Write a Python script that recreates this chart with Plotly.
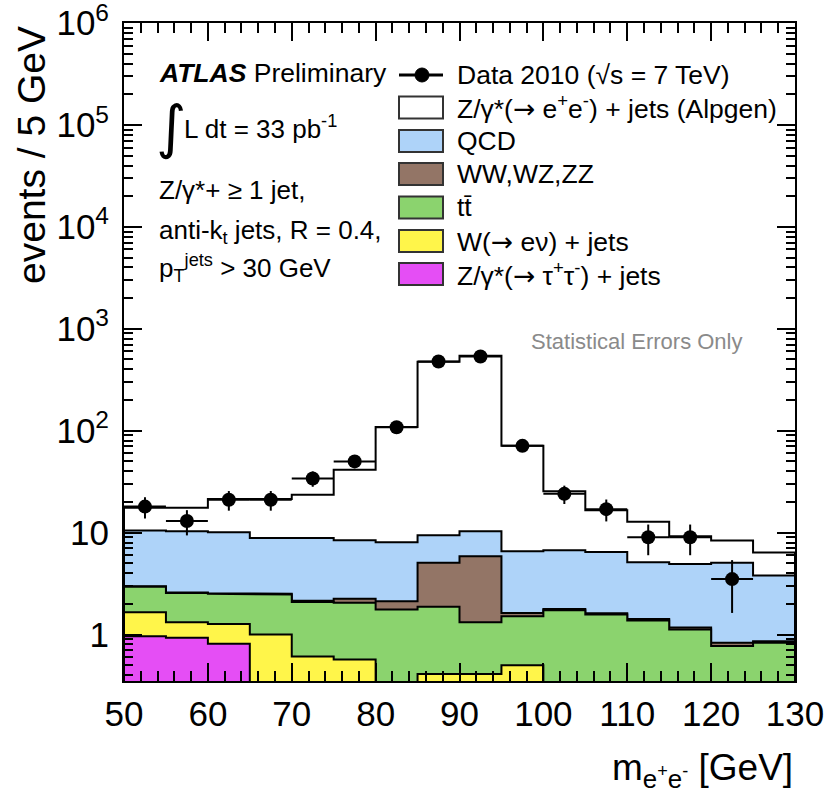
import numpy as np
import plotly.graph_objects as go

# ---------------- data ----------------
bin_low = [50, 55, 60, 65, 70, 75, 80, 85, 90, 95, 100, 105, 110, 115, 120, 125]
bin_width = 5

data_x = [52.5, 57.5, 62.5, 67.5, 72.5, 77.5, 82.5, 87.5, 92.5, 97.5, 102.5, 107.5, 112.5, 117.5, 122.5]
data_y = [18, 13, 21, 21, 34, 50, 108, 478, 535, 71, 24, 17, 9, 9, 3.5]

# MC processes (stacked, bottom -> top)
z_tautau = [0.96, 0.93, 0.81, 0, 0, 0, 0, 0, 0, 0, 0, 0, 0, 0, 0, 0]
w_enu = [0.69, 0.39, 0.46, 1.0, 0.61, 0.57, 0, 0.41, 0.41, 0.50, 0, 0, 0, 0, 0, 0]
ttbar = [1.29, 1.24, 1.24, 1.47, 1.48, 1.48, 1.76, 1.46, 0.91, 1.01, 1.73, 1.57, 1.37, 1.12, 0.77, 0.83]
diboson = [0.03, 0.03, 0.03, 0.04, 0.05, 0.19, 0.36, 3.18, 4.54, 0.12, 0.05, 0.05, 0.05, 0.05, 0.06, 0.03]
qcd = [7.53, 7.71, 7.56, 6.36, 6.73, 6.16, 5.91, 4.35, 4.44, 4.93, 4.92, 4.84, 3.69, 3.76, 4.22, 2.93]
z_ee = [7.0, 7.2, 11.3, 12.5, 14.7, 33.1, 101, 466, 533, 64.7, 18.7, 10.1, 7.7, 4.3, 3.3, 2.6]

ARROW = '<span style="font-family:DejaVu Sans">\u2192</span>'
layer_names = ["Z/γ*(" + ARROW + " τ<sup>+</sup>τ<sup>-</sup>) + jets", "W(" + ARROW + " eν) + jets", "tt\u0304",
               "WW,WZ,ZZ", "QCD", "Z/γ*(" + ARROW + " e<sup>+</sup>e<sup>-</sup>) + jets (Alpgen)"]
layer_colors = ["#e54ef5", "#fff54a", "#8bd36e", "#937566", "#aed3f9", "#ffffff"]

x_ticks = [50, 60, 70, 80, 90, 100, 110, 120, 130]
y_ticks = [1, 10, 100, 1e3, 1e4, 1e5, 1e6]
y_ticktext = ["1", "10", "10<sup>2</sup>", "10<sup>3</sup>", "10<sup>4</sup>", "10<sup>5</sup>", "10<sup>6</sup>"]

FONT = "Liberation Sans, Arial, Helvetica, sans-serif"
W, H = 827, 796
L, R, T, B = 124, 795, 23, 681  # plot-area pixel box


def px2x(px):
    return (px - L) / (R - L)


def py2y(py):
    return (B - py) / (B - T)


floor = 0.05
layers = [z_tautau, w_enu, ttbar, diboson, qcd, z_ee]
cum = np.cumsum(np.array(layers, dtype=float), axis=0)

fig = go.Figure()

# draw stacked histograms from top (largest) to bottom
for k in range(len(layers) - 1, -1, -1):
    xs, ys = [], []
    for lo, v in zip(bin_low, cum[k]):
        v = max(v, floor)
        xs += [lo, lo + bin_width]
        ys += [v, v]
    xs += [bin_low[-1] + bin_width, bin_low[0], bin_low[0]]
    ys += [floor, floor, ys[0]]
    fig.add_trace(go.Scatter(x=xs, y=ys, mode="lines", fill="toself",
                             fillcolor=layer_colors[k],
                             line=dict(color="black", width=2),
                             hoverinfo="skip", showlegend=False))

# data points
dy = np.sqrt(np.array(data_y, dtype=float))
fig.add_trace(go.Scatter(
    x=data_x, y=data_y, mode="markers",
    marker=dict(size=14, color="black"),
    error_y=dict(type="data", array=dy, thickness=2, width=0, color="black"),
    error_x=dict(type="constant", value=bin_width / 2, thickness=2, width=0, color="black"),
    showlegend=False))

minor_y = [m * 10 ** e for e in range(-1, 6) for m in range(2, 10)]

fig.update_layout(
    width=W, height=H,
    margin=dict(l=L, r=W - R, t=T, b=H - B, autoexpand=False),
    paper_bgcolor="white", plot_bgcolor="white",
    font=dict(family=FONT, color="black"),
    showlegend=False,
    xaxis=dict(range=[50, 130], tickvals=x_ticks, ticks="inside", ticklen=18, tickwidth=1.5,
               tickcolor="black", showline=True, linecolor="black", linewidth=2, mirror="allticks",
               showgrid=False, zeroline=False, tickfont=dict(size=35, family=FONT),
               ticklabelstandoff=1, automargin=False, ticklabeloverflow="allow",
               minor=dict(dtick=2, ticks="inside", ticklen=10, tickwidth=1.5, tickcolor="black", showgrid=False)),
    yaxis=dict(type="log", range=[np.log10(0.35), 6.0005], tickvals=y_ticks, ticktext=y_ticktext,
               ticks="inside", ticklen=18, tickwidth=1.5, tickcolor="black", showline=True,
               linecolor="black", linewidth=2, mirror="allticks", showgrid=False, zeroline=False,
               tickfont=dict(size=35, family=FONT), ticklabelstandoff=6, automargin=False,
               ticklabeloverflow="allow",
               minor=dict(tickvals=minor_y, ticks="inside", ticklen=9, tickwidth=1.5, tickcolor="black", showgrid=False)),
)

ann = []
# axis titles
ann.append(dict(x=px2x(31), y=py2y(24), xref="paper", yref="paper", text="events / 5 GeV",
                textangle=-90, showarrow=False, xanchor="center", yanchor="top",
                font=dict(size=39, family=FONT)))
ann.append(dict(x=1.0, y=py2y(770), xref="paper", yref="paper",
                text="m<sub>e<sup>+</sup>e<sup>-</sup></sub> [GeV]",
                showarrow=False, xanchor="right", yanchor="middle", font=dict(size=37, family=FONT)))

# ATLAS label block
LF = 26
ann.append(dict(x=px2x(157), y=py2y(73), xref="paper", yref="paper",
                text="<b><i>ATLAS</i></b> Preliminary", showarrow=False, xanchor="left", yanchor="middle",
                font=dict(size=26.5, family=FONT)))
ann.append(dict(x=px2x(154), y=py2y(127), xref="paper", yref="paper", text="∫",
                showarrow=False, xanchor="left", yanchor="middle", font=dict(size=58, family="DejaVu Sans")))
ann.append(dict(x=px2x(182), y=py2y(127), xref="paper", yref="paper", text="L dt = 33 pb<sup>-1</sup>",
                showarrow=False, xanchor="left", yanchor="middle", font=dict(size=LF, family=FONT)))
ann.append(dict(x=px2x(157), y=py2y(190), xref="paper", yref="paper", text="Z/γ*+ ≥ 1 jet,",
                showarrow=False, xanchor="left", yanchor="middle", font=dict(size=LF, family=FONT)))
ann.append(dict(x=px2x(157), y=py2y(231), xref="paper", yref="paper", text="anti-k<sub>t</sub> jets, R = 0.4,",
                showarrow=False, xanchor="left", yanchor="middle", font=dict(size=LF, family=FONT)))
ann.append(dict(x=px2x(157), y=py2y(268), xref="paper", yref="paper",
                text="p<sub>T</sub><sup>jets</sup> > 30 GeV",
                showarrow=False, xanchor="left", yanchor="middle", font=dict(size=LF, family=FONT)))

# statistical errors note
ann.append(dict(x=px2x(637), y=py2y(341), xref="paper", yref="paper", text="Statistical Errors Only",
                showarrow=False, xanchor="center", yanchor="middle", font=dict(size=22, color="#8a8a8a", family=FONT)))

shapes = []
# legend
leg_rows = [75, 107.5, 141, 174, 207.5, 241, 274]
leg_text = ["Data 2010 (√s = 7 TeV)"] + layer_names[::-1]
leg_cols = [None] + layer_colors[::-1]
bx0, bx1 = 399, 443
for i, (yc, txt) in enumerate(zip(leg_rows, leg_text)):
    if i == 0:
        shapes.append(dict(type="line", xref="paper", yref="paper", x0=px2x(bx0), x1=px2x(bx1),
                           y0=py2y(yc), y1=py2y(yc), line=dict(color="black", width=3)))
        shapes.append(dict(type="circle", xref="paper", yref="paper", x0=px2x(415), x1=px2x(429),
                           y0=py2y(yc + 7), y1=py2y(yc - 7), fillcolor="black", line=dict(color="black", width=1)))
    else:
        shapes.append(dict(type="rect", xref="paper", yref="paper", x0=px2x(bx0), x1=px2x(bx1),
                           y0=py2y(yc + 11), y1=py2y(yc - 11), fillcolor=leg_cols[i],
                           line=dict(color="#333333", width=2)))
    ann.append(dict(x=px2x(455), y=py2y(yc), xref="paper", yref="paper", text=txt, showarrow=False,
                    xanchor="left", yanchor="middle", font=dict(size=26.5, family=FONT)))

fig.update_layout(annotations=ann, shapes=shapes)

fig.write_html("out.html")
